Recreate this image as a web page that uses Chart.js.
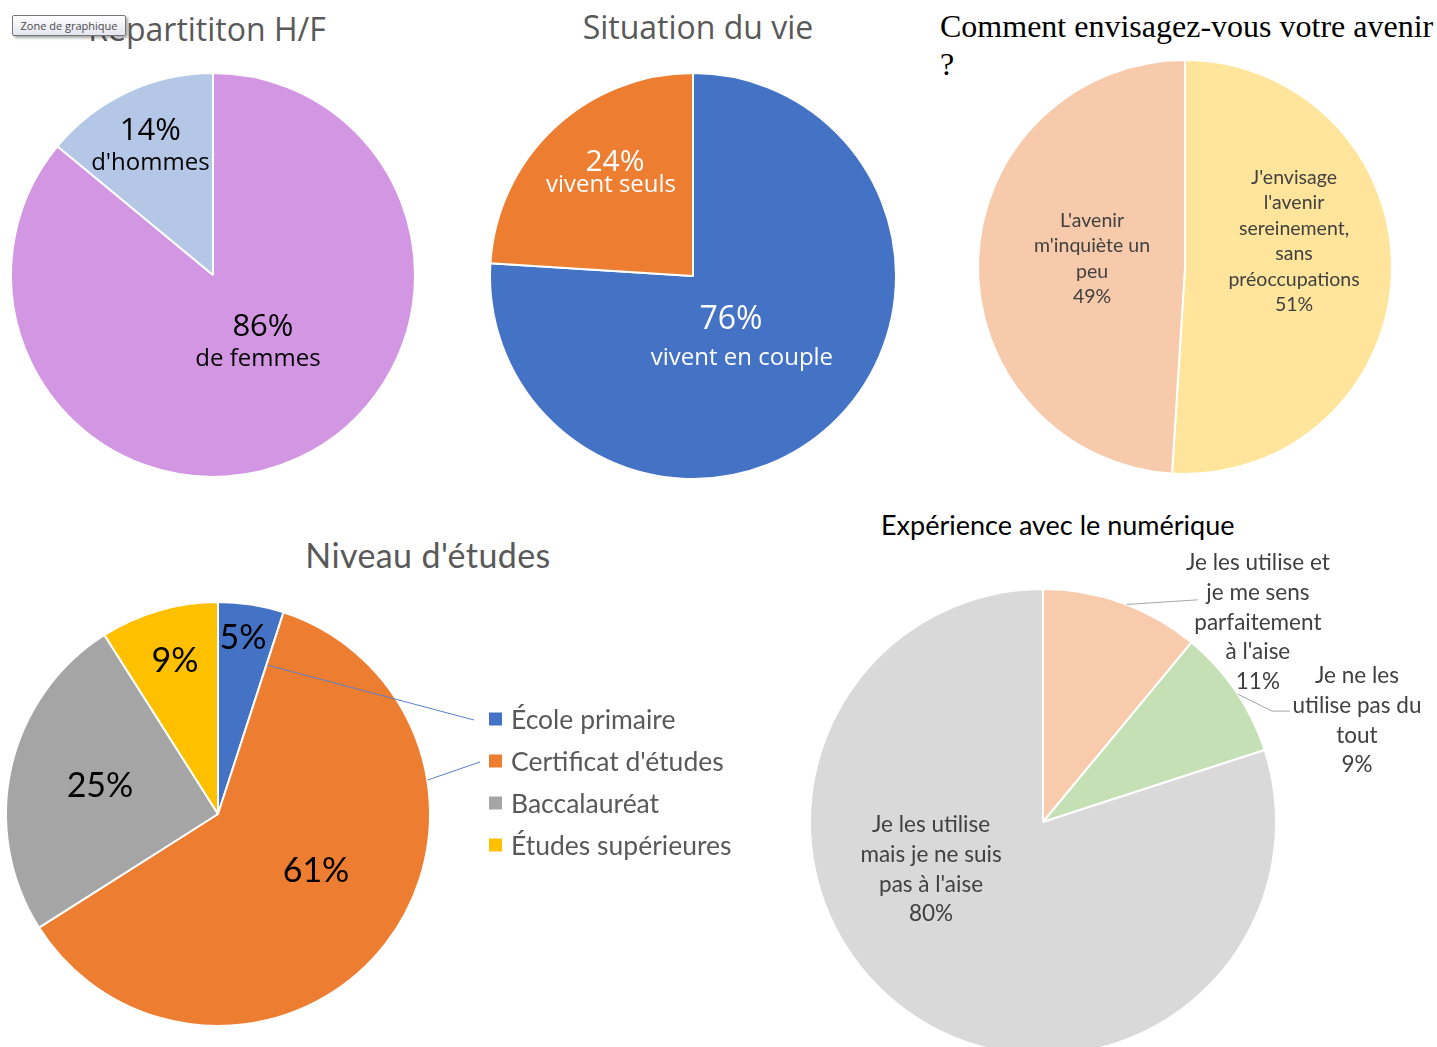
<!DOCTYPE html>
<html>
<head>
<meta charset="utf-8">
<script src="https://cdn.jsdelivr.net/npm/chart.js@4.4.0/dist/chart.umd.min.js"></script>
<style>
html, body { margin: 0; padding: 0; background: #fff; }
body { width: 1437px; height: 1047px; position: relative; overflow: hidden; }
canvas { position: absolute; }
.title { position: absolute; white-space: nowrap; line-height: 1; }
.c { transform: translateX(-50%); }
#t1, #t2 { font-family: "Open Sans"; font-size: 32px; color: #595959; }
#t1 { left: 207px; top: 13px; }
#t2 { left: 698px; top: 11px; }
#t3 { font-family: "Liberation Serif"; font-size: 32px; line-height: 38px; color: #000; left: 940px; top: 7px; }
#t4 { font-family: Lato; font-size: 34px; letter-spacing: 0.4px; color: #595959; left: 428px; top: 538px; }
#t5 { font-family: Lato; font-size: 27px; color: #000; left: 881px; top: 511px; }
#zone {
  position: absolute; left: 12px; top: 15px; width: 112px; height: 19px;
  border: 1px solid #767676; border-radius: 2px;
  background: linear-gradient(#ffffff, #e4e5f0);
  box-shadow: 2px 2px 3px rgba(0,0,0,0.35);
  font-family: "Open Sans"; font-size: 11px; line-height: 19px; color: #4c4c4c;
  text-align: center; z-index: 5;
}
</style>
</head>
<body>
<div class="title c" id="t1">Répartititon H/F</div>
<div class="title c" id="t2">Situation du vie</div>
<div class="title" id="t3">Comment envisagez-vous votre avenir<br>?</div>
<div class="title c" id="t4">Niveau d'études</div>
<div class="title" id="t5">Expérience avec le numérique</div>
<div id="zone">Zone de graphique</div>

<canvas id="c1"></canvas>
<canvas id="c2"></canvas>
<canvas id="c3"></canvas>
<canvas id="c4"></canvas>
<canvas id="c5"></canvas>

<script>
var hfLabels = ["de femmes", "d'hommes"]
var hfValues = [86, 14]
var hfColors = ["#D396E2", "#B4C7E7"]

var vieLabels = ["vivent en couple", "vivent seuls"]
var vieValues = [76, 24]
var vieColors = ["#4472C4", "#ED7D31"]

var avenirLabels = [["J'envisage", "l'avenir", "sereinement,", "sans", "préoccupations"], ["L'avenir", "m'inquiète un", "peu"]]
var avenirValues = [51, 49]
var avenirColors = ["#FFE59B", "#F7CAAB"]

var etudesLabels = ["École primaire", "Certificat d'études", "Baccalauréat", "Études supérieures"]
var etudesValues = [5, 61, 25, 9]
var etudesColors = ["#4472C4", "#ED7D31", "#A5A5A5", "#FFC000"]

var numLabels = [["Je les utilise et", "je me sens", "parfaitement", "à l'aise"], ["Je ne les", "utilise pas du", "tout"], ["Je les utilise", "mais je ne suis", "pas à l'aise"]]
var numValues = [11, 9, 80]
var numColors = ["#F8CBAD", "#C5E0B4", "#D9D9D9"]

// point at a fraction of the radius, around the slice middle (deg = shift, clockwise)
function anchor(arc, frac, deg) {
  var a = (arc.startAngle + arc.endAngle) / 2 + deg * Math.PI / 180
  return { x: arc.x + Math.cos(a) * arc.outerRadius * frac, y: arc.y + Math.sin(a) * arc.outerRadius * frac }
}

function sliceText(spots, rowsFor, extra) {
  return {
    id: 'sliceText',
    afterDatasetsDraw: function(chart) {
      var ctx = chart.ctx
      var arcs = chart.getDatasetMeta(0).data
      ctx.save()
      ctx.textAlign = 'center'
      ctx.textBaseline = 'middle'
      arcs.forEach(function(arc, i) {
        var p = anchor(arc, spots[i][0], spots[i][1])
        var rows = rowsFor(i)
        var h = 0
        rows.forEach(function(r) { h += r.lh })
        var y = p.y - h / 2
        rows.forEach(function(r) {
          ctx.font = r.font
          ctx.fillStyle = r.color
          ctx.fillText(r.text, p.x + (r.dx || 0), y + r.lh / 2)
          y += r.lh
        })
      })
      if (extra) extra(chart, ctx, arcs)
      ctx.restore()
    }
  }
}

function line(ctx, pts, color) {
  ctx.beginPath()
  ctx.strokeStyle = color
  ctx.lineWidth = 1
  ctx.moveTo(pts[0].x, pts[0].y)
  for (var k = 1; k < pts.length; k++) ctx.lineTo(pts[k].x, pts[k].y)
  ctx.stroke()
}

function place(id, cx, cy, w, h) {
  var cv = document.getElementById(id)
  cv.width = w
  cv.height = h
  cv.style.left = (cx - w / 2) + 'px'
  cv.style.top = (cy - h / 2) + 'px'
  return cv
}

function pie(cv, labels, values, colors, radius, plugin) {
  return new Chart(cv, {
    type: 'pie',
    data: {
      labels: labels,
      datasets: [{
        data: values,
        backgroundColor: colors,
        borderColor: '#ffffff',
        borderWidth: 2,
        radius: radius
      }]
    },
    options: {
      responsive: false,
      animation: false,
      events: [],
      layout: { padding: 0 },
      plugins: { legend: { display: false }, tooltip: { enabled: false } }
    },
    plugins: [plugin]
  })
}

// Répartition H/F
pie(place('c1', 213, 275, 440, 440), hfLabels, hfValues, hfColors, 202,
  sliceText([[0.407, -9.6], [0.71, -0.7]], function(i) {
    return [
      { text: hfValues[i] + '%', font: '31px "Open Sans"', color: '#000', lh: 34, dx: i == 0 ? 3 : 0 },
      { text: hfLabels[i], font: '24px "Open Sans"', color: '#000', lh: 30, dx: i == 0 ? -2 : 0 }
    ]
  }))

// Situation du vie
pie(place('c2', 693, 276, 440, 440), vieLabels, vieValues, vieColors, 203,
  sliceText([[0.37, 7.4], [0.646, 5.6]], function(i) {
    var big = i == 0
    return [
      { text: vieValues[i] + '%', font: (big ? 32 : 30) + 'px "Open Sans"', color: '#fff', lh: big ? 42 : 26, dx: big ? -6 : 2 },
      { text: vieLabels[i], font: '24px "Open Sans"', color: '#fff', lh: big ? 34 : 20, dx: big ? 5 : -2 }
    ]
  }))

// avenir
pie(place('c3', 1185, 267, 440, 440), avenirLabels, avenirValues, avenirColors, 207,
  sliceText([[0.541, -15], [0.451, 3.4]], function(i) {
    return avenirLabels[i].concat([avenirValues[i] + '%']).map(function(t) {
      return { text: t, font: '19.5px Lato', color: '#404040', lh: 25.5 }
    })
  }))

// Niveau d'études
pie(place('c4', 218, 814, 1044, 440), etudesLabels, etudesValues, etudesColors, 212,
  sliceText([[0.839, -0.9], [0.535, -7.6], [0.572, 0.7], [0.75, 0.5]], function(i) {
    return [{ text: etudesValues[i] + '%', font: '34px Lato', color: '#000', lh: 36 }]
  }, function(chart, ctx, arcs) {
    var cx = arcs[0].x, cy = arcs[0].y
    ctx.textAlign = 'left'
    ctx.font = '26.5px Lato'
    etudesLabels.forEach(function(t, i) {
      var ry = cy - 95 + 42 * i
      ctx.fillStyle = etudesColors[i]
      ctx.fillRect(cx + 271, ry - 6.5, 13, 13)
      ctx.fillStyle = '#595959'
      ctx.fillText(t, cx + 293, ry + 1)
    })
    line(ctx, [anchor(arcs[0], 0.74, 9.5), { x: cx + 256, y: cy - 94 }], '#5b80c9')
    line(ctx, [anchor(arcs[1], 1.0, -47), { x: cx + 262, y: cy - 52 }], '#5b80c9')
  }))

// Expérience avec le numérique
var numSpots = [[1.259, 27.3], [1.416, 16.3], [0.522, 31]]
pie(place('c5', 1043, 822, 800, 560), numLabels, numValues, numColors, 233,
  sliceText(numSpots, function(i) {
    return numLabels[i].concat([numValues[i] + '%']).map(function(t) {
      return { text: t, font: '22.5px Lato', color: '#404040', lh: 29.7 }
    })
  }, function(chart, ctx, arcs) {
    var a0 = anchor(arcs[0], numSpots[0][0], numSpots[0][1])
    var a1 = anchor(arcs[1], numSpots[1][0], numSpots[1][1])
    line(ctx, [anchor(arcs[0], 1.0, 1.2), { x: a0.x - 60, y: a0.y - 22.5 }], '#a6a6a6')
    line(ctx, [anchor(arcs[1], 1.0, 0.9), { x: a1.x - 85, y: a1.y - 9.5 }, { x: a1.x - 67, y: a1.y - 9.5 }], '#a6a6a6')
  }))
</script>
</body>
</html>
